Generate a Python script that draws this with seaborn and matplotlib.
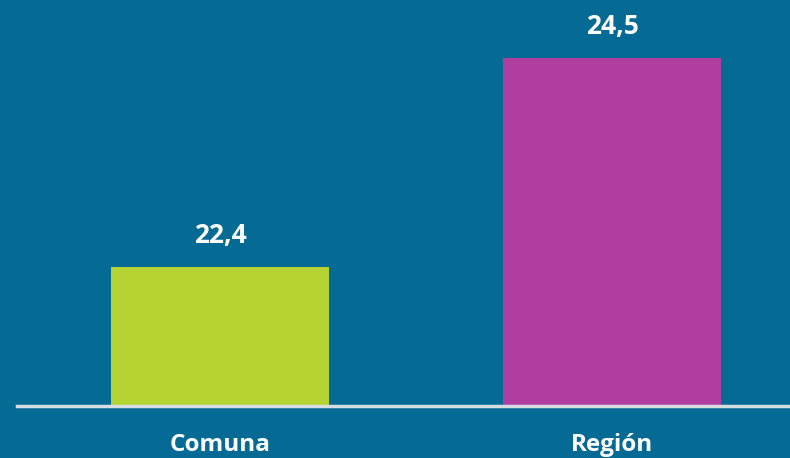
import matplotlib
matplotlib.use("Agg")
import matplotlib.pyplot as plt
import seaborn as sns
import pandas as pd

categories = ["Comuna", "Región"]
values = [22.4, 24.5]
labels = ["22,4", "24,5"]
colors = ["#b5d332", "#b03ea0"]

bg = "#056a94"
sns.set_theme(style="white")
plt.rcParams['font.family'] = ['Open Sans', 'DejaVu Sans']

df = pd.DataFrame({"cat": categories, "val": values})

fig = plt.figure(figsize=(7.9, 4.58), dpi=100, facecolor=bg)
ax = fig.add_axes([17/790, 52/458, 1 - 17/790, 406/458])
ax.set_facecolor(bg)

sns.barplot(data=df, x="cat", y="val", hue="cat", palette=colors, legend=False,
            width=0.554, ax=ax, saturation=1, linewidth=0, edgecolor="none")

ax.set_ylim(21.0, 25.083)
ax.set_xlim(-0.518, 1.454)
for s in ["top", "right", "left"]:
    ax.spines[s].set_visible(False)
ax.spines["bottom"].set_color("#d6dde2")
ax.spines["bottom"].set_linewidth(2.5)
ax.set_yticks([])
ax.set_xlabel("")
ax.set_ylabel("")
ax.tick_params(axis="x", length=0, pad=19.5, labelsize=17.5, labelcolor="white")
for t in ax.get_xticklabels():
    t.set_fontweight("bold")

for i, (v, lab) in enumerate(zip(values, labels)):
    ax.annotate(lab, (i, v), xytext=(0, 17), textcoords="offset points",
                ha="center", va="baseline", color="white", fontsize=19,
                fontweight="bold")

fig.savefig("out.png", dpi=100, facecolor=bg)
